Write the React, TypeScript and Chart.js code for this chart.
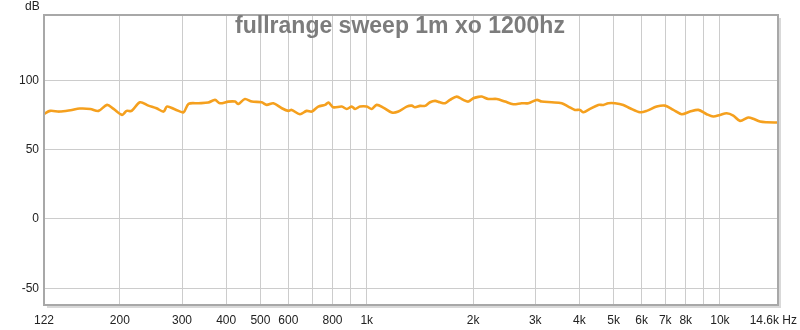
import React, { useEffect, useRef } from 'react';
import { Chart, registerables } from 'chart.js';

Chart.register(...registerables);

const title = 'fullrange sweep 1m xo 1200hz';
const yUnit = 'dB';

const freqs = [122,127,135,145,154,165,174,184,192,203,209,216,228,241,254,266,272,287,303,313,334,356,372,384,406,424,433,452,473,504,521,544,575,600,613,647,676,699,729,762,779,804,850,878,907,927,957,1000,1033,1067,1114,1177,1229,1298,1341,1370,1415,1462,1511,1561,1612,1666,1721,1798,1877,1939,2003,2070,2116,2209,2334,2463,2600,2747,2867,3029,3129,3340,3565,3721,3887,4016,4104,4287,4525,4675,4830,5046,5326,5564,5939,6204,6622,6990,7379,7793,8226,8684,9173,9576,10004,10450,10910,11397,12030,12430,12985,13564,14600];

const spl = [75.8,77.9,77.4,78.4,79.6,79.3,77.9,82.2,79.3,75.0,77.9,77.9,84.1,81.7,79.8,77.4,81.0,78.9,76.9,83.0,83.4,83.9,85.8,83.4,84.6,84.6,82.9,86.5,84.6,84.1,82.2,83.4,79.8,77.9,78.6,75.5,77.9,77.4,81.0,82.2,83.9,80.5,81.0,79.3,81.0,79.3,81.0,81.0,79.3,82.2,80.3,76.7,77.4,81.0,81.7,80.5,81.5,81.5,84.1,85.1,84.1,83.4,85.8,88.2,85.8,84.6,87.0,88.0,88.2,86.5,86.5,84.6,82.7,83.4,83.4,85.8,84.6,84.1,83.4,81.0,78.6,78.6,76.9,79.3,82.2,82.2,83.4,83.4,82.2,79.8,76.9,77.9,81.0,81.7,78.6,75.5,77.4,78.6,75.5,73.8,75.0,76.2,74.5,70.7,73.1,72.2,70.2,69.7,69.5];

const yTicks = [-50, 0, 50, 100];
const yLabels = ['-50', '0', '50', '100'];
const xGrid = [200,300,400,500,600,700,800,900,1000,2000,3000,4000,5000,6000,7000,8000,9000,10000];
const xLabelFreqs = [122,200,300,400,500,600,800,1000,2000,3000,4000,5000,6000,7000,8000,10000,14600];
const xLabels = ['122','200','300','400','500','600','800','1k','2k','3k','4k','5k','6k','7k','8k','10k','14.6k Hz'];

const FONT = '"Liberation Sans", Arial, sans-serif';

const decor = {
  id: 'decor',
  beforeDraw(chart: any) {
    const { ctx, width, height } = chart;
    ctx.save();
    ctx.fillStyle = '#ffffff';
    ctx.fillRect(0, 0, width, height);
    ctx.restore();
  },
  afterDraw(chart: any) {
    const { ctx, chartArea: a, scales } = chart;
    const x = scales.x;
    const y = scales.y;
    ctx.save();
    // frame shadow
    ctx.strokeStyle = 'rgba(0,0,0,0.15)';
    ctx.lineWidth = 2;
    ctx.beginPath();
    ctx.moveTo(a.right + 2, a.top + 3);
    ctx.lineTo(a.right + 2, a.bottom + 2);
    ctx.lineTo(a.left + 3, a.bottom + 2);
    ctx.stroke();
    // frame
    ctx.strokeStyle = '#a8a8a8';
    ctx.lineWidth = 2;
    ctx.strokeRect(a.left, a.top, a.right - a.left, a.bottom - a.top);
    // title
    ctx.font = 'bold 23px ' + FONT;
    ctx.fillStyle = '#7c7c7c';
    ctx.textAlign = 'center';
    ctx.textBaseline = 'alphabetic';
    ctx.fillText(title, chart.width / 2, 33);
    // y labels
    ctx.font = '12px ' + FONT;
    ctx.fillStyle = '#222222';
    ctx.textAlign = 'right';
    ctx.textBaseline = 'middle';
    yTicks.forEach((v, i) => ctx.fillText(yLabels[i], a.left - 5, y.getPixelForValue(v)));
    ctx.textAlign = 'left';
    ctx.fillText(yUnit, 25, 7);
    // x labels
    ctx.textAlign = 'center';
    xLabelFreqs.forEach((f, i) => {
      let px = x.getPixelForValue(f);
      const w = ctx.measureText(xLabels[i]).width;
      if (px + w / 2 > chart.width - 3) px = chart.width - 3 - w / 2;
      ctx.fillText(xLabels[i], px, a.bottom + 15.5);
    });
    ctx.restore();
  },
};

export default function App() {
  const ref = useRef<HTMLCanvasElement>(null);
  useEffect(() => {
    if (!ref.current) return;
    const chart = new Chart(ref.current, {
      type: 'line',
      data: {
        datasets: [
          {
            data: freqs.map((f, i) => ({ x: f, y: spl[i] })),
            borderColor: '#f5a01e',
            borderWidth: 2.6,
            pointRadius: 0,
            tension: 0.3,
            fill: false,
          },
        ],
      },
      options: {
        responsive: false,
        animation: false,
        layout: { padding: { left: 44, right: 22, top: 15, bottom: 25 } },
        plugins: { legend: { display: false }, tooltip: { enabled: false }, title: { display: false } },
        scales: {
          x: {
            type: 'logarithmic',
            min: 122,
            max: 14600,
            afterBuildTicks: (s: any) => { s.ticks = xGrid.map((v) => ({ value: v })); },
            ticks: { display: false },
            grid: { color: '#cccccc', lineWidth: 1, drawTicks: false },
            border: { display: false },
          },
          y: {
            type: 'linear',
            min: -62,
            max: 147,
            afterBuildTicks: (s: any) => { s.ticks = yTicks.map((v) => ({ value: v })); },
            ticks: { display: false },
            grid: { color: '#cccccc', lineWidth: 1, drawTicks: false },
            border: { display: false },
          },
        },
      },
      plugins: [decor],
    });
    return () => chart.destroy();
  }, []);
  return (
    <div style={{ position: 'absolute', left: 0, top: 0, width: 800, height: 330 }}>
      <canvas ref={ref} width={800} height={330} style={{ width: 800, height: 330, display: 'block' }} />
    </div>
  );
}
